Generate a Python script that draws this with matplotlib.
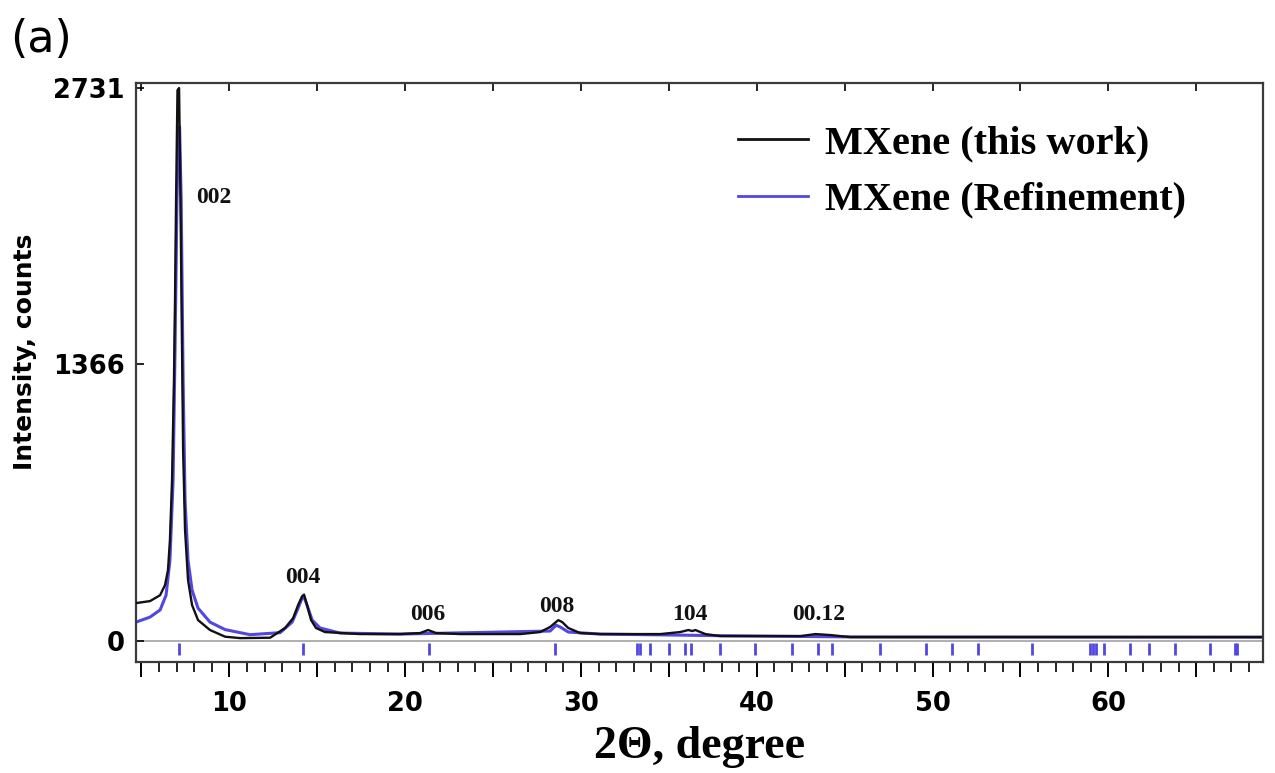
import matplotlib
matplotlib.use("Agg")
import matplotlib.pyplot as plt
from matplotlib.ticker import MultipleLocator, FixedLocator, FuncFormatter

# ---------------- data ----------------
obs_x = [4.69, 5.49, 6.06, 6.34, 6.51, 6.62, 6.74, 6.85, 6.91, 6.97, 7.05, 7.14,
         7.22, 7.31, 7.37, 7.48, 7.65, 7.88, 8.22, 8.90, 9.76, 10.61, 12.32, 13.17,
         13.63, 13.91, 14.14, 14.25, 14.42, 14.65, 14.93, 15.44, 17.43, 19.71, 20.85,
         21.31, 21.76, 23.13, 26.55, 27.68, 28.25, 28.71, 28.94, 29.28, 29.96, 31.10,
         34.52, 35.65, 36.11, 36.34, 36.51, 37.08, 37.93, 42.49, 43.34, 44.20, 45.33,
         53.87, 68.67]
obs_y = [186, 196, 225, 275, 349, 497, 793, 1287, 1683, 2177, 2720, 2731,
         2177, 1436, 942, 547, 300, 176, 102, 53, 20, 13, 15, 63,
         112, 176, 220, 228, 176, 102, 63, 43, 33, 33, 38,
         53, 38, 33, 33, 43, 68, 102, 92, 63, 38, 33,
         33, 43, 53, 48, 53, 33, 23, 23, 33, 28, 18,
         18, 18]

calc_x = [4.69, 5.49, 6.06, 6.40, 6.62, 6.80, 6.91, 7.02, 7.11, 7.17, 7.26, 7.37,
          7.48, 7.65, 7.88, 8.22, 8.90, 9.76, 11.18, 12.89, 13.57, 13.91, 14.14,
          14.25, 14.42, 14.71, 15.16, 16.30, 19.71, 28.25, 28.59, 28.82, 29.28,
          31.10, 38.00, 45.33, 68.67]
calc_y = [92, 117, 152, 225, 398, 793, 1436, 2177, 2520, 2540, 2177, 1287,
          695, 398, 250, 161, 92, 55, 30, 40, 92, 161, 211,
          216, 176, 102, 63, 38, 33, 48, 77, 68, 43,
          33, 25, 19, 18]

bragg_pos = [7.15, 14.21, 21.33, 28.54, 33.20, 33.34, 33.94, 34.99, 35.94, 36.28,
             37.89, 39.88, 42.00, 43.47, 44.28, 47.00, 49.65, 51.10, 52.60, 55.67,
             58.95, 59.12, 59.31, 59.78, 61.26, 62.34, 63.82, 65.81, 67.20, 67.34]

peak_labels = ["002", "004", "006", "008", "104", "00.12"]
peak_label_x = [9.13, 14.20, 21.30, 28.64, 36.22, 43.50]
peak_label_y = [2192, 315, 132, 171, 132, 132]

y_ticks = [0, 1366, 2731]
x_major = [10, 20, 30, 40, 50, 60]

legend_labels = ["MXene (this work)", "MXene (Refinement)"]

# ---------------- figure ----------------
BLACK = "#111111"
BLUE = "#5247e0"

fig = plt.figure(figsize=(12.75, 7.73), dpi=100)
ax = fig.add_axes([136 / 1275, 1 - 662 / 773, (1263 - 136) / 1275, (662 - 83) / 773])

ax.axhline(0, color="#a9a9a9", lw=1.3, zorder=1)
l1, = ax.plot(obs_x, obs_y, color=BLACK, lw=1.7, zorder=3)
l2, = ax.plot(calc_x, calc_y, color=BLUE, lw=2.2, zorder=2)
ax.vlines(bragg_pos, -72, -12, color=BLUE, lw=2.0, zorder=2)

ax.set_xlim(4.69, 68.8)
ax.set_ylim(-105, 2756)

for sp in ax.spines.values():
    sp.set_linewidth(1.6)
    sp.set_color("#3a3a3a")

# y ticks
ax.yaxis.set_major_locator(FixedLocator(y_ticks))
ax.tick_params(axis="y", which="major", direction="in", length=6, width=1.2,
               labelsize=18.5, pad=8)
for lab in ax.get_yticklabels():
    lab.set_fontweight("bold")

# x ticks: bottom outward
ax.xaxis.set_major_locator(MultipleLocator(5))
ax.xaxis.set_minor_locator(MultipleLocator(1))
ax.xaxis.set_major_formatter(FuncFormatter(lambda v, p: f"{int(round(v))}" if int(round(v)) in x_major else ""))
ax.tick_params(axis="x", which="major", direction="out", length=11, width=1.4,
               labelsize=18.5, pad=10)
ax.tick_params(axis="x", which="minor", direction="out", length=7, width=1.2)
for lab in ax.get_xticklabels():
    lab.set_fontweight("bold")

# top ticks inward
sec = ax.secondary_xaxis("top")
sec.xaxis.set_major_locator(MultipleLocator(5))
sec.tick_params(axis="x", direction="in", length=6, width=1.2, labeltop=False)
sec.spines["top"].set_visible(False)

fig.text(25 / 1275, 1 - 352 / 773, "Intensity, counts", rotation=90,
         fontsize=18, fontweight="bold", ha="center", va="center")
ax.set_xlabel("2\u0398, degree", fontsize=33, fontweight="bold",
              family="Liberation Serif", labelpad=6)

for t, xx, yy in zip(peak_labels, peak_label_x, peak_label_y):
    ax.text(xx, yy, t, ha="center", va="center", fontsize=17, fontweight="bold",
            family="Liberation Serif", color="#111111")

leg = ax.legend([l1, l2], legend_labels, loc="upper left",
                bbox_to_anchor=(738 / 1275, (773 - 125) / 773),
                bbox_transform=fig.transFigure, frameon=False,
                prop={"family": "Liberation Serif", "weight": "bold", "size": 29},
                handlelength=1.75, handletextpad=0.40, labelspacing=0.48,
                borderpad=0, borderaxespad=0)
for h in leg.get_lines():
    h.set_linewidth(2.0)

fig.text(10 / 1275, 1 - 40 / 773, "(a)", fontsize=32, va="center", ha="left")

fig.savefig("out.png", dpi=100, facecolor="white")
